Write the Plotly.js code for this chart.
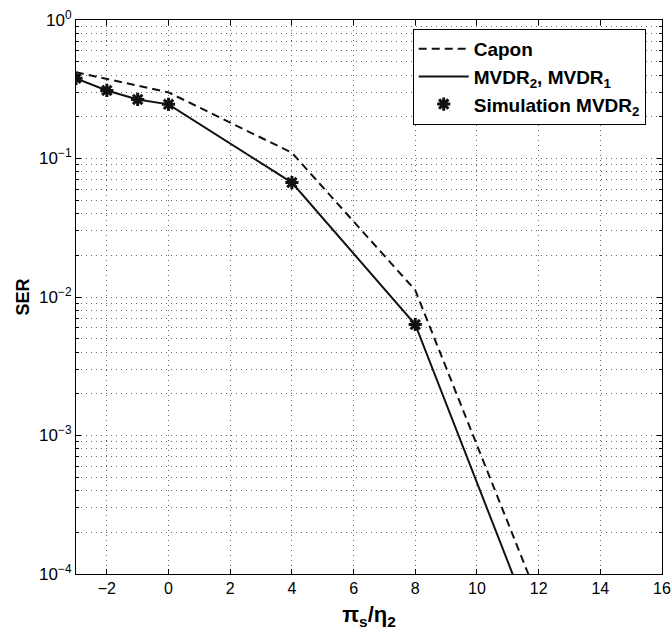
<!DOCTYPE html>
<html>
<head>
<meta charset="utf-8">
<script src="https://cdn.plot.ly/plotly-3.0.1.min.js"></script>
<style>html,body{margin:0;padding:0;background:#fff;}#chart{width:672px;height:639px;}</style>
</head>
<body>
<div id="chart"></div>
<script>
// Data
const xVals = [-3, -2, -1, 0, 4, 8, 12];
const caponSER = [0.42, 0.375, 0.335, 0.30, 0.110, 0.0112, 6.5e-5];
const mvdrSER = [0.379, 0.31, 0.267, 0.246, 0.067, 0.00633, 3.3e-5];
const simX = [-3, -2, -1, 0, 4, 8];
const simSER = [0.379, 0.31, 0.267, 0.246, 0.067, 0.00633];

const xTickVals = [-2, 0, 2, 4, 6, 8, 10, 12, 14, 16];
const yTickVals = [1e-4, 1e-3, 1e-2, 1e-1, 1];
const yTickText = ['10<sup>−4</sup>', '10<sup>−3</sup>', '10<sup>−2</sup>', '10<sup>−1</sup>', '10<sup>0</sup>'];
const yMinorVals = [];
for (let e = -4; e < 0; e++) { for (let m = 2; m <= 9; m++) yMinorVals.push(m * Math.pow(10, e)); }

const FONT = 'Liberation Sans, Arial, sans-serif';
const gridStyle = {gridcolor: '#666', gridwidth: 1, griddash: '1px,4px'};

const traces = [
  {x: xVals, y: caponSER, type: 'scatter', mode: 'lines', name: 'Capon',
   line: {color: '#111', width: 2, dash: '8px,5px'}},
  {x: xVals, y: mvdrSER, type: 'scatter', mode: 'lines', name: 'MVDR<sub>2</sub>, MVDR<sub>1</sub>',
   line: {color: '#111', width: 2}},
  {x: simX, y: simSER, type: 'scatter', mode: 'markers', name: 'Simulation MVDR<sub>2</sub>',
   marker: {symbol: 'asterisk-open', size: 11, color: '#111', line: {color: '#111', width: 3}}}
];

const layout = {
  width: 672, height: 639,
  margin: {l: 76, r: 10, t: 20, b: 65},
  paper_bgcolor: '#fff', plot_bgcolor: '#fff',
  font: {family: FONT, size: 16, color: '#000'},
  showlegend: true,
  legend: {x: 0.5746, y: 0.984, xanchor: 'left', yanchor: 'top',
    bgcolor: '#fff', bordercolor: '#000', borderwidth: 1,
    font: {family: FONT, size: 19, color: '#000', weight: 'bold'},
    itemwidth: 50, tracegroupgap: 2},
  xaxis: Object.assign({
    range: [-3, 16], tickvals: xTickVals, ticks: 'inside', ticklen: 5, tickcolor: '#000',
    showline: true, linecolor: '#000', linewidth: 1, mirror: 'ticks', zeroline: false,
    showgrid: true,
    tickfont: {family: FONT, size: 16, color: '#000'},
    title: {text: '<b>π<sub>s</sub>/η<sub>2</sub></b>', font: {family: FONT, size: 22, color: '#000'}, standoff: 10}
  }, gridStyle),
  yaxis: Object.assign({
    type: 'log', range: [-4, 0], tickvals: yTickVals, ticktext: yTickText,
    ticks: 'inside', ticklen: 5, tickcolor: '#000',
    showline: true, linecolor: '#000', linewidth: 1, mirror: 'ticks', zeroline: false,
    showgrid: true,
    tickfont: {family: FONT, size: 17, color: '#000'},
    minor: Object.assign({tickvals: yMinorVals, ticks: 'inside', ticklen: 3, tickcolor: '#000', showgrid: true}, gridStyle),
    title: {text: '<b>SER</b>', font: {family: FONT, size: 18, color: '#000'}, standoff: 4}
  }, gridStyle)
};

Plotly.newPlot('chart', traces, layout, {displayModeBar: false, staticPlot: true});
</script>
</body>
</html>
